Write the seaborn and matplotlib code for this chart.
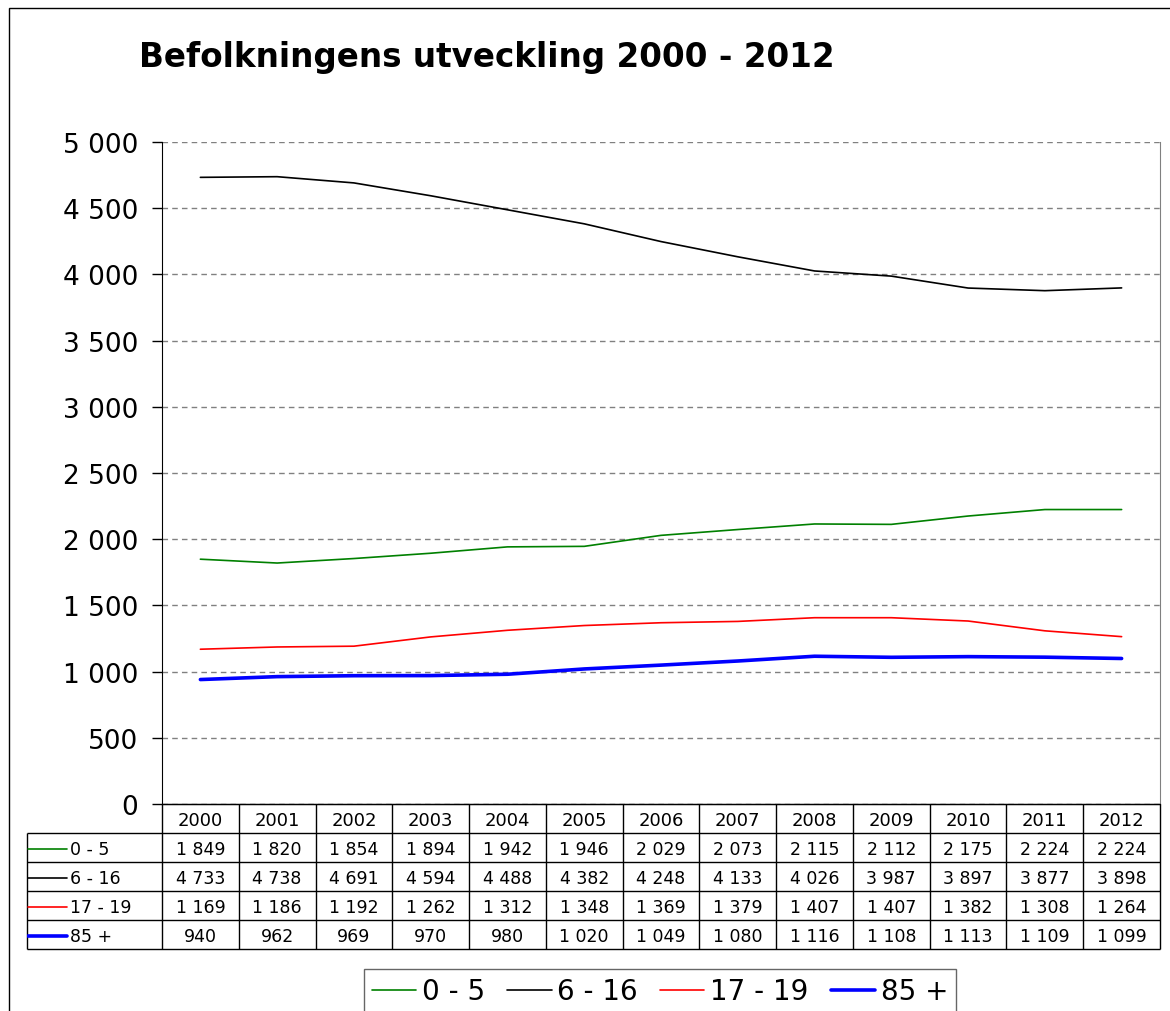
import matplotlib
matplotlib.use('Agg')
import matplotlib.pyplot as plt
import seaborn as sns
import pandas as pd
from matplotlib.patches import Rectangle
from matplotlib.ticker import FuncFormatter

# data
years = list(range(2000, 2013))
groups = ['0 - 5', '6 - 16', '17 - 19', '85 +']
age_0_5 = [1849, 1820, 1854, 1894, 1942, 1946, 2029, 2073, 2115, 2112, 2175, 2224, 2224]
age_6_16 = [4733, 4738, 4691, 4594, 4488, 4382, 4248, 4133, 4026, 3987, 3897, 3877, 3898]
age_17_19 = [1169, 1186, 1192, 1262, 1312, 1348, 1369, 1379, 1407, 1407, 1382, 1308, 1264]
age_85 = [940, 962, 969, 970, 980, 1020, 1049, 1080, 1116, 1108, 1113, 1109, 1099]
series = [age_0_5, age_6_16, age_17_19, age_85]

colors = {'0 - 5': '#008000', '6 - 16': '#000000', '17 - 19': '#ff0000', '85 +': '#0000ff'}
widths = {'0 - 5': 1.2, '6 - 16': 1.2, '17 - 19': 1.2, '85 +': 2.6}

df = pd.DataFrame({
    'Year': years * len(groups),
    'Group': [g for g in groups for _ in years],
    'Antal': [v for s in series for v in s],
})

sns.set_style('white')
plt.rcParams['font.family'] = ['DejaVu Sans']
plt.rcParams['text.color'] = 'black'
plt.rcParams['ytick.color'] = 'black'
plt.rcParams['xtick.color'] = 'black'

fig = plt.figure(figsize=(11.7, 10.12), dpi=100)
ax = fig.add_axes([162 / 1170, 207 / 1012, 998 / 1170, 662 / 1012])

sns.lineplot(data=df, x='Year', y='Antal', hue='Group', size='Group',
             palette=colors, sizes=widths, hue_order=groups, size_order=groups,
             legend=False, ax=ax)

ax.set_xlim(years[0] - 0.5, years[-1] + 0.5)
ax.set_ylim(0, 5000)
ax.set_yticks(range(0, 5001, 500))
ax.yaxis.set_major_formatter(FuncFormatter(lambda v, p: f'{int(v):,}'.replace(',', ' ')))
ax.tick_params(axis='y', labelsize=19, length=7, width=1, color='black', pad=10, left=True)
ax.tick_params(axis='x', bottom=False, labelbottom=False)
ax.set_xlabel('')
ax.set_ylabel('')
ax.yaxis.grid(True, linestyle=(0, (4, 3)), color='#808080', linewidth=1)
ax.xaxis.grid(False)
ax.spines['top'].set_visible(False)
ax.spines['right'].set_color('#808080')
ax.spines['left'].set_color('black')
ax.spines['bottom'].set_color('black')

# data table below the plot, drawn in its own axes (x in year units, y in rows)
col_px = 998 / 13
label_cols = 135 / col_px
x_left = years[0] - 0.5 - label_cols
x_right = years[-1] + 0.5
tax = fig.add_axes([27 / 1170, 62 / 1012, (1160 - 27) / 1170, 145 / 1012])
tax.set_xlim(x_left, x_right)
tax.set_ylim(5, 0)
tax.axis('off')

tax.hlines(0, years[0] - 0.5, x_right, color='black', lw=1, clip_on=False)
tax.hlines(range(1, 6), x_left, x_right, color='black', lw=1, clip_on=False)
tax.vlines([y - 0.5 for y in years] + [x_right], 0, 5, color='black', lw=1, clip_on=False)
tax.vlines(x_left, 1, 5, color='black', lw=1, clip_on=False)

for yr in years:
    tax.text(yr, 0.55, str(yr), ha='center', va='center', fontsize=13)
for i, (g, s) in enumerate(zip(groups, series)):
    r = i + 1.55
    tax.plot([x_left + 1 / col_px, x_left + 40 / col_px], [r, r], color=colors[g], lw=widths[g])
    tax.text(x_left + 43 / col_px, r, g, ha='left', va='center', fontsize=12.5)
    for yr, v in zip(years, s):
        tax.text(yr, r, f'{v:,}'.replace(',', ' '), ha='center', va='center', fontsize=12.5)

fig.text(487 / 1170, 1 - 58 / 1012, 'Befolkningens utveckling 2000 - 2012',
         fontsize=23.5, fontweight='bold', ha='center', va='center')

handles = ax.get_lines()[:4]
fig.legend(handles, groups, loc='upper center', bbox_to_anchor=(660 / 1170, 1 - 970 / 1012),
           ncol=4, fontsize=20, frameon=True, fancybox=False, edgecolor='#404040',
           handlelength=1.6, handletextpad=0.2, columnspacing=0.8, borderpad=0.3,
           borderaxespad=0)

fig.add_artist(Rectangle((9 / 1170, -0.02), 1.0, 1 - 9 / 1012 + 0.02, transform=fig.transFigure,
                         fill=False, edgecolor='black', lw=1))

fig.savefig('out.png', dpi=100, facecolor='white')
